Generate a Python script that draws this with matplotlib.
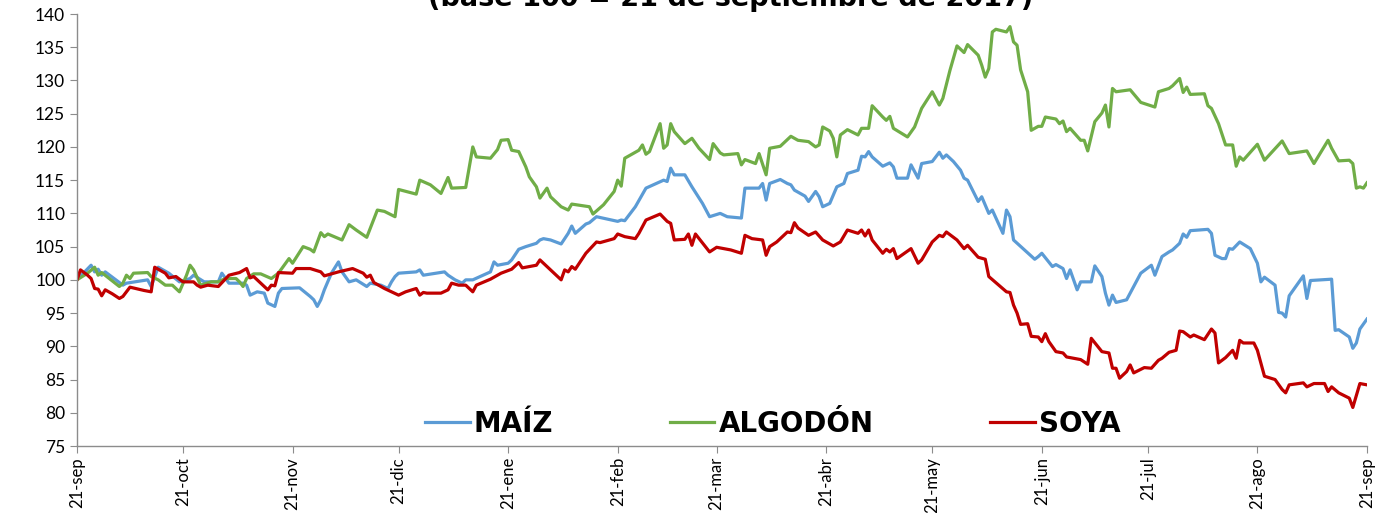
"""Índices de precios de maíz, algodón y soya (base 100 = 21-sep-2017)."""

import matplotlib

matplotlib.use("Agg")
import matplotlib.pyplot as plt
import numpy as np

BASE = np.datetime64("2017-09-21")

# Días transcurridos desde la fecha base y valor del índice en cada día
maiz_dias = [
    0, 4, 5, 6, 7, 8, 13, 14, 20, 21, 23, 26, 29, 32, 33, 36, 40, 41, 43, 47,
    48, 49, 51, 53, 54, 56, 57, 58, 63, 66, 67, 68, 69, 70, 72, 74, 75, 77, 79,
    82, 83, 86, 88, 89, 90, 91, 96, 97, 98, 104, 105, 107, 109, 110, 112, 117,
    118, 119, 122, 123, 125, 127, 130, 131, 132, 134, 137, 139, 140, 141, 144,
    145, 147, 153, 154, 155, 158, 161, 166, 167, 168, 169, 172, 174, 177, 179,
    182, 184, 188, 189, 193, 194, 195, 196, 199, 201, 202, 203, 206, 207, 209,
    210, 211, 213, 215, 217, 218, 221, 222, 223, 224, 225, 228, 230, 231, 232,
    235, 236, 238, 239, 242, 244, 245, 246, 248, 250, 251, 252, 255, 256, 258,
    259, 262, 263, 264, 265, 271, 272, 273, 276, 277, 279, 280, 281, 283, 284,
    287, 288, 290, 291, 292, 293, 294, 297, 298, 301, 304, 305, 307, 309, 310,
    312, 313, 314, 315, 320, 321, 322, 324, 325, 326, 327, 329, 332, 334, 335,
    336, 339, 340, 341, 342, 343, 347, 348, 349, 355, 356, 357, 360, 361, 362,
    363, 365,
]
maiz = [
    100.0, 102.2, 101.2, 101.6, 100.7, 101.2, 99.2, 99.5, 100.0, 99.0, 101.9,
    101.0, 99.7, 100.2, 100.7, 99.7, 99.7, 101.0, 99.5, 99.5, 99.2, 97.7, 98.2,
    98.0, 96.5, 96.0, 98.0, 98.7, 98.8, 97.5, 97.0, 96.0, 97.0, 98.5, 101.0,
    102.7, 101.2, 99.7, 100.0, 99.0, 99.5, 99.2, 98.7, 99.7, 100.5, 101.0,
    101.2, 101.5, 100.7, 101.2, 100.7, 100.0, 99.5, 100.0, 100.0, 101.2, 102.7,
    102.2, 102.5, 103.0, 104.6, 105.0, 105.5, 106.0, 106.2, 106.0, 105.4,
    107.0, 108.1, 107.0, 108.4, 108.6, 109.5, 108.8, 109.0, 108.9, 111.0,
    113.8, 115.0, 114.8, 116.8, 115.8, 115.8, 114.0, 111.5, 109.5, 110.0,
    109.5, 109.3, 113.8, 113.8, 114.5, 112.0, 114.5, 115.1, 114.5, 114.3,
    113.5, 112.6, 111.8, 113.3, 112.5, 111.0, 111.5, 114.0, 114.5, 116.0,
    116.5, 118.6, 118.5, 119.3, 118.5, 117.1, 117.6, 117.0, 115.3, 115.3,
    117.3, 115.3, 117.5, 117.8, 119.2, 118.3, 118.8, 117.8, 116.5, 115.3,
    115.0, 111.8, 112.5, 110.0, 110.5, 107.0, 110.5, 109.5, 106.0, 103.1,
    103.5, 104.0, 102.0, 102.3, 101.7, 100.2, 101.5, 98.5, 99.7, 99.7, 102.1,
    100.5, 98.0, 96.2, 97.7, 96.6, 97.0, 98.0, 101.0, 102.2, 100.7, 103.5,
    104.2, 104.5, 105.5, 106.9, 106.4, 107.4, 107.6, 107.0, 103.7, 103.2,
    103.2, 104.7, 104.6, 105.7, 104.7, 102.5, 99.7, 100.4, 99.2, 95.1, 95.0,
    94.4, 97.6, 100.6, 97.2, 99.9, 100.1, 92.4, 92.5, 91.4, 89.7, 90.5, 92.6,
    94.1,
]

algodon_dias = [
    0, 3, 5, 6, 7, 12, 13, 14, 15, 16, 20, 21, 23, 25, 27, 29, 31, 32, 33, 35,
    38, 40, 42, 45, 46, 47, 48, 50, 52, 55, 57, 60, 61, 64, 66, 67, 69, 70, 71,
    75, 77, 79, 82, 85, 87, 90, 91, 96, 97, 100, 103, 105, 106, 110, 112, 113,
    117, 119, 120, 122, 123, 125, 127, 128, 130, 131, 133, 134, 137, 139, 140,
    145, 146, 149, 152, 153, 154, 155, 159, 160, 161, 162, 165, 166, 167, 168,
    169, 172, 174, 176, 179, 180, 182, 183, 187, 188, 189, 192, 193, 195, 196,
    199, 202, 204, 207, 209, 210, 211, 213, 214, 215, 216, 218, 221, 222, 224,
    225, 228, 229, 230, 231, 235, 237, 239, 242, 244, 245, 247, 249, 251, 252,
    255, 256, 257, 258, 259, 260, 263, 264, 265, 266, 267, 269, 270, 272, 273,
    274, 277, 278, 279, 280, 281, 284, 285, 286, 288, 290, 291, 292, 293, 294,
    298, 301, 305, 306, 309, 310, 312, 313, 314, 315, 319, 320, 321, 323, 325,
    327, 328, 329, 330, 334, 336, 341, 343, 348, 350, 354, 355, 357, 360, 361,
    362, 363, 364, 365,
]
algodon = [
    100.0, 101.0, 101.9, 100.7, 101.1, 99.0, 99.5, 100.7, 100.2, 101.0, 101.1,
    100.5, 100.0, 99.2, 99.2, 98.2, 100.7, 102.2, 101.5, 99.2, 99.7, 99.7,
    100.2, 100.2, 99.7, 99.0, 100.2, 100.9, 100.9, 100.2, 101.0, 103.2, 102.5,
    105.0, 104.6, 104.2, 107.1, 106.5, 106.9, 106.0, 108.3, 107.5, 106.4,
    110.5, 110.3, 109.5, 113.6, 112.9, 115.0, 114.3, 113.0, 115.4, 113.8,
    113.9, 120.0, 118.5, 118.3, 119.6, 121.0, 121.1, 119.5, 119.3, 117.0,
    115.5, 114.0, 112.3, 113.8, 112.5, 111.0, 110.5, 111.4, 111.0, 109.9,
    111.3, 113.3, 115.0, 114.1, 118.3, 119.5, 120.3, 118.9, 119.3, 123.5,
    119.8, 120.3, 123.5, 122.3, 120.5, 121.3, 119.8, 118.1, 120.5, 119.1,
    118.8, 119.0, 117.3, 118.1, 117.5, 119.0, 115.8, 119.8, 120.1, 121.6,
    121.0, 120.8, 120.0, 120.3, 123.0, 122.4, 121.3, 118.5, 121.8, 122.6,
    121.8, 122.8, 122.8, 126.2, 124.5, 124.0, 124.6, 122.8, 121.5, 123.0,
    125.8, 128.3, 126.3, 127.3, 131.5, 135.2, 134.2, 135.4, 133.8, 132.3,
    130.5, 131.8, 137.3, 137.7, 137.3, 138.1, 135.8, 135.3, 131.6, 128.3,
    122.5, 123.1, 123.1, 124.5, 124.2, 123.5, 123.9, 122.3, 122.8, 121.0,
    121.0, 119.4, 123.8, 125.1, 126.3, 123.0, 128.8, 128.3, 128.6, 126.7,
    126.0, 128.3, 128.8, 129.2, 130.3, 128.2, 129.0, 127.9, 128.0, 126.2,
    125.8, 123.5, 120.3, 120.3, 117.1, 118.5, 118.0, 120.4, 118.0, 120.9,
    119.0, 119.4, 117.5, 121.0, 119.8, 117.9, 118.0, 117.5, 113.8, 114.0,
    113.8, 114.6,
]

soya_dias = [
    0, 1, 3, 4, 5, 6, 7, 8, 10, 12, 13, 15, 19, 21, 22, 25, 26, 28, 30, 33, 34,
    35, 37, 40, 43, 46, 48, 49, 50, 54, 55, 56, 57, 61, 62, 66, 69, 70, 74, 78,
    81, 82, 83, 84, 87, 91, 93, 96, 97, 98, 99, 103, 105, 106, 108, 110, 112,
    113, 117, 118, 120, 123, 125, 126, 130, 131, 137, 138, 139, 140, 141, 144,
    147, 148, 152, 153, 155, 158, 159, 161, 165, 167, 168, 169, 172, 173, 174,
    175, 179, 181, 185, 188, 189, 191, 194, 195, 196, 198, 201, 202, 203, 204,
    207, 209, 211, 214, 216, 218, 221, 222, 223, 224, 225, 228, 229, 230, 231,
    232, 236, 238, 239, 242, 244, 245, 246, 249, 251, 252, 255, 257, 258, 263,
    264, 265, 266, 267, 269, 270, 272, 273, 274, 275, 277, 279, 280, 284, 286,
    287, 290, 292, 293, 294, 295, 297, 298, 299, 302, 304, 306, 307, 309, 311,
    312, 313, 315, 316, 319, 321, 322, 323, 325, 327, 328, 329, 330, 333, 334,
    336, 339, 341, 342, 343, 347, 348, 350, 353, 354, 355, 357, 360, 361, 363,
    365,
]
soya = [
    100.0, 101.5, 100.7, 100.2, 98.7, 98.6, 97.6, 98.5, 97.9, 97.2, 97.5, 98.9,
    98.4, 98.2, 101.9, 101.0, 100.3, 100.5, 99.7, 99.7, 99.2, 98.9, 99.2, 99.0,
    100.7, 101.1, 101.7, 100.3, 100.5, 98.5, 99.2, 99.1, 101.1, 101.0, 101.7,
    101.7, 101.2, 100.6, 101.2, 101.7, 101.0, 100.4, 100.7, 99.6, 98.7, 97.7,
    98.2, 98.7, 97.7, 98.1, 98.0, 98.0, 98.5, 99.5, 99.2, 99.2, 98.2, 99.2,
    100.1, 100.4, 101.0, 101.6, 102.6, 101.8, 102.2, 103.0, 100.0, 101.5,
    101.2, 102.0, 101.6, 104.0, 105.7, 105.6, 106.2, 106.9, 106.5, 106.2,
    107.0, 109.0, 109.9, 108.8, 108.5, 106.0, 106.1, 106.9, 105.2, 106.9,
    104.2, 104.9, 104.5, 104.0, 106.7, 106.2, 106.0, 103.7, 105.0, 105.7,
    107.2, 107.1, 108.6, 107.8, 106.7, 107.2, 106.0, 105.1, 105.7, 107.5,
    107.0, 107.5, 106.6, 107.5, 106.0, 104.0, 104.6, 104.2, 104.7, 103.2,
    104.7, 102.5, 103.0, 105.7, 106.7, 106.5, 107.2, 106.0, 104.7, 105.2,
    103.4, 103.1, 100.5, 98.2, 98.1, 96.2, 95.0, 93.3, 93.4, 91.5, 91.4, 90.7,
    91.9, 90.7, 89.2, 89.0, 88.4, 88.0, 87.3, 91.2, 89.2, 89.0, 86.7, 86.7,
    85.2, 86.2, 87.2, 86.0, 86.8, 86.7, 87.9, 88.2, 89.1, 89.4, 92.3, 92.2,
    91.4, 91.7, 91.0, 92.6, 92.0, 87.5, 88.3, 89.4, 88.2, 90.9, 90.5, 90.5,
    89.4, 85.5, 85.0, 83.5, 83.0, 84.2, 84.5, 83.9, 84.4, 84.4, 83.2, 83.9,
    83.0, 82.2, 80.8, 84.4, 84.2,
]

series = [
    ("MAÍZ", maiz_dias, maiz, "#5B9BD5"),
    ("ALGODÓN", algodon_dias, algodon, "#70AD47"),
    ("SOYA", soya_dias, soya, "#C00000"),
]

tick_dias = [0, 30, 61, 91, 122, 153, 181, 212, 242, 273, 303, 334, 365]
tick_labels = [
    "21-sep", "21-oct", "21-nov", "21-dic", "21-ene", "21-feb", "21-mar",
    "21-abr", "21-may", "21-jun", "21-jul", "21-ago", "21-sep",
]


def to_dates(dias):
    return BASE + np.array(dias).astype("timedelta64[D]")


def main() -> None:
    plt.rcParams["font.family"] = ["Lato", "DejaVu Sans"]
    fig = plt.figure(figsize=(13.94, 5.13), dpi=100)
    ax = fig.add_axes([0.0552, 0.1306, 0.9254, 0.8421])

    for label, dias, valores, color in series:
        ax.plot(to_dates(dias), valores, color=color, lw=2.3, label=label,
                solid_joinstyle="round")

    ax.set_xlim(to_dates([0])[0], to_dates([365])[0])
    ax.set_ylim(75, 140)
    ax.set_yticks(np.arange(75, 141, 5))
    ax.set_xticks(to_dates(tick_dias))
    ax.set_xticklabels(tick_labels, rotation=90)

    gris = "#8C8C8C"
    for side in ("top", "right"):
        ax.spines[side].set_visible(False)
    for side in ("left", "bottom"):
        ax.spines[side].set_color(gris)
        ax.spines[side].set_linewidth(1.0)
    ax.tick_params(axis="both", direction="out", length=5, color=gris,
                   labelsize=12.5, labelcolor="black")
    ax.tick_params(axis="x", labelsize=12, pad=3)

    ax.legend(loc="center", bbox_to_anchor=(0.5395, 0.051), ncol=3,
              frameon=False, handlelength=1.6, handletextpad=0.15,
              columnspacing=4.2,
              prop={"family": "DejaVu Sans", "weight": "bold", "size": 20})

    fig.text(0.524, 1 - 6 / 513, "(base 100 = 21 de septiembre de 2017)",
             ha="center", va="baseline", fontsize=19.5, fontweight="bold",
             family="DejaVu Sans")

    fig.savefig("out.png", dpi=100)
    plt.close(fig)


if __name__ == "__main__":
    main()
